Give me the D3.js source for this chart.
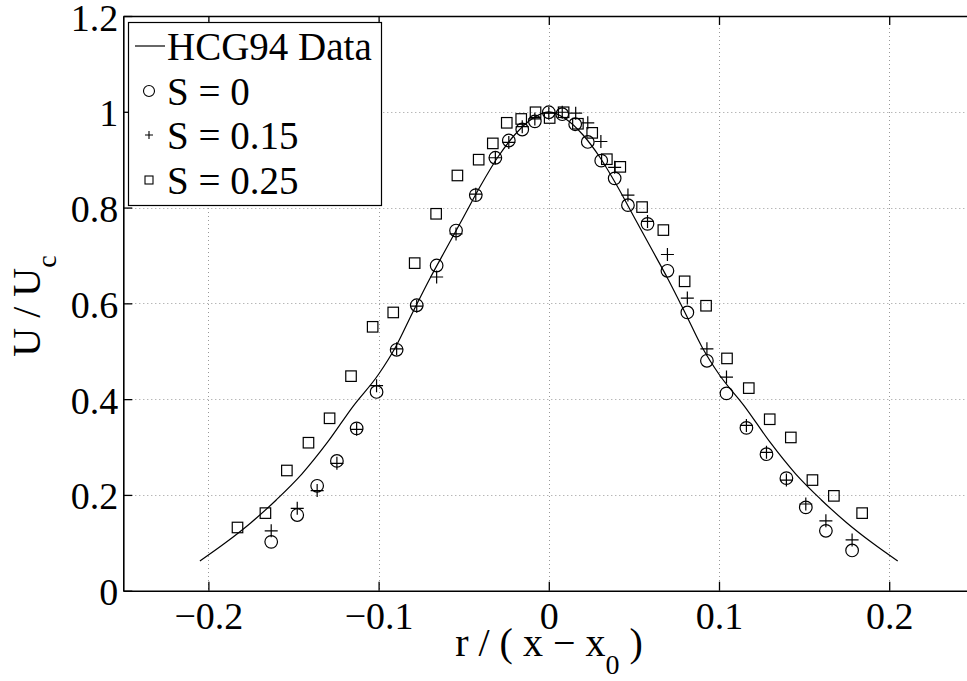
<!DOCTYPE html>
<html><head><meta charset="utf-8">
<script src="https://cdn.jsdelivr.net/npm/d3@7"></script>
<style>
html,body{margin:0;padding:0;background:#fff;overflow:hidden;}
svg text{font-family:"Liberation Serif","Times New Roman",serif;fill:#000;}
</style></head>
<body>
<svg id="chart" width="967" height="681"></svg>
<script>
// ---- data ----
const xTicks = [-0.2, -0.1, 0, 0.1, 0.2];
const xTickLabels = ["\u22120.2", "\u22120.1", "0", "0.1", "0.2"];
const yTicks = [0, 0.2, 0.4, 0.6, 0.8, 1, 1.2];
const yTickLabels = ["0", "0.2", "0.4", "0.6", "0.8", "1", "1.2"];

const curveX = [-0.205,-0.19,-0.175,-0.16,-0.145,-0.13,-0.115,-0.10,-0.09,-0.08,-0.07,-0.06,-0.05,-0.04,-0.03,-0.02,-0.01,0,
                0.01,0.02,0.03,0.04,0.05,0.06,0.07,0.08,0.09,0.10,0.115,0.13,0.145,0.16,0.175,0.19,0.205];
const curveY = [0.062,0.100,0.142,0.190,0.244,0.310,0.385,0.452,0.509,0.581,0.651,0.716,0.781,0.846,0.905,0.952,0.985,1.000,
                0.985,0.952,0.905,0.846,0.781,0.716,0.651,0.581,0.509,0.452,0.385,0.310,0.244,0.190,0.142,0.100,0.062];

const s0X = [-0.1631,-0.1478,-0.1361,-0.1245,-0.1129,-0.1012,-0.0894,-0.0776,-0.0659,-0.0545,-0.0429,-0.0314,-0.0235,-0.0156,-0.0082,0,
             0.0079,0.0155,0.0229,0.0308,0.0387,0.0465,0.0580,0.0697,0.0814,0.0929,0.1044,0.1161,0.1279,0.1396,0.1510,0.1628,0.1782];
const s0Y = [0.102,0.158,0.219,0.271,0.339,0.415,0.503,0.596,0.679,0.752,0.826,0.904,0.940,0.963,0.980,0.999,
             0.995,0.974,0.937,0.898,0.861,0.805,0.766,0.668,0.581,0.480,0.412,0.340,0.285,0.235,0.174,0.125,0.084];

const s15X = [-0.1631,-0.1478,-0.1361,-0.1245,-0.1129,-0.1012,-0.0894,-0.0776,-0.0659,-0.0545,-0.0429,-0.0314,-0.0235,-0.0156,-0.0082,0,
              0.0079,0.0158,0.0229,0.0306,0.0387,0.0465,0.0580,0.0697,0.0814,0.0929,0.1044,0.1161,0.1279,0.1396,0.1510,0.1628,0.1782];
const s15Y = [0.125,0.172,0.209,0.266,0.337,0.428,0.505,0.594,0.655,0.745,0.828,0.904,0.936,0.969,0.985,0.997,
              0.999,0.997,0.977,0.938,0.884,0.826,0.771,0.702,0.611,0.505,0.446,0.345,0.289,0.231,0.181,0.146,0.106];

const s25X = [-0.1829,-0.1665,-0.1539,-0.1412,-0.1288,-0.1162,-0.1035,-0.0914,-0.0788,-0.0662,-0.0537,-0.0412,-0.0329,-0.0247,-0.0162,-0.0078,
              0.0005,0.0087,0.0171,0.0255,0.0341,0.0420,0.0548,0.0673,0.0798,0.0924,0.1047,0.1175,0.1298,0.1422,0.1549,0.1675,0.1841];
const s25Y = [0.132,0.162,0.251,0.309,0.360,0.448,0.551,0.581,0.684,0.787,0.867,0.900,0.934,0.977,0.985,0.999,
              0.987,0.999,0.975,0.956,0.901,0.885,0.801,0.753,0.646,0.595,0.485,0.423,0.358,0.320,0.231,0.198,0.162];

const legendLabels = ["HCG94 Data", "S = 0", "S = 0.15", "S = 0.25"];

// ---- layout ----
const svg = d3.select("#chart");
const L = 123.3, R = 974.3, T = 16, B = 590.7;
const x = d3.scaleLinear().domain([-0.25, 0.25]).range([L, R]);
const y = d3.scaleLinear().domain([0, 1.2]).range([B, T]);

// grid
const grid = svg.append("g").attr("stroke", "#999").attr("stroke-width", 1).attr("stroke-dasharray", "1,3");
grid.selectAll(".gx").data(xTicks).enter().append("line")
  .attr("x1", d => Math.round(x(d)) + 0.5).attr("x2", d => Math.round(x(d)) + 0.5)
  .attr("y1", T).attr("y2", B);
grid.selectAll(".gy").data(yTicks.filter(d => d > 0 && d < 1.2)).enter().append("line")
  .attr("y1", d => Math.round(y(d)) + 0.5).attr("y2", d => Math.round(y(d)) + 0.5)
  .attr("x1", L).attr("x2", R);

// axes
const axB = svg.append("g").attr("transform", `translate(0,${B})`)
  .call(d3.axisBottom(x).tickValues(xTicks).tickSizeInner(-9).tickSizeOuter(0).tickFormat((d, i) => xTickLabels[i]));
const axT = svg.append("g").attr("transform", `translate(0,${T})`)
  .call(d3.axisTop(x).tickValues(xTicks).tickSizeInner(-9).tickSizeOuter(0).tickFormat(""));
const axL = svg.append("g").attr("transform", `translate(${L},0)`)
  .call(d3.axisLeft(y).tickValues(yTicks).tickSizeInner(-9).tickSizeOuter(0).tickFormat((d, i) => yTickLabels[i]));
[axB, axT, axL].forEach(a => {
  a.select(".domain").attr("stroke", "#000").attr("stroke-width", 1.6);
  a.selectAll(".tick line").attr("stroke", "#000").attr("stroke-width", 1.3);
  a.selectAll("text").style("font-family", '"Liberation Serif","Times New Roman",serif')
    .style("font-size", "38px").attr("fill", "#000");
});
axB.selectAll(".tick text").attr("dy", null).attr("y", 38);
axL.selectAll(".tick text").attr("dy", null).attr("x", -5).attr("y", 14);

// curve
const line = d3.line().x(d => x(d[0])).y(d => y(d[1])).curve(d3.curveMonotoneX);
svg.append("path").datum(curveX.map((v, i) => [v, curveY[i]]))
  .attr("d", line).attr("fill", "none").attr("stroke", "#000").attr("stroke-width", 1.2);

// markers
svg.append("g").selectAll("circle").data(s0X.map((v, i) => [v, s0Y[i]])).enter().append("circle")
  .attr("cx", d => x(d[0])).attr("cy", d => y(d[1])).attr("r", 6.3)
  .attr("fill", "none").attr("stroke", "#000").attr("stroke-width", 1.2);
const pl = 6.5;
svg.append("g").selectAll("path").data(s15X.map((v, i) => [v, s15Y[i]])).enter().append("path")
  .attr("d", d => { const cx = x(d[0]), cy = y(d[1]); return `M${cx - pl},${cy}H${cx + pl}M${cx},${cy - pl}V${cy + pl}`; })
  .attr("fill", "none").attr("stroke", "#000").attr("stroke-width", 1.2);
const sq = 10.5;
svg.append("g").selectAll("rect").data(s25X.map((v, i) => [v, s25Y[i]])).enter().append("rect")
  .attr("x", d => x(d[0]) - sq / 2).attr("y", d => y(d[1]) - sq / 2).attr("width", sq).attr("height", sq)
  .attr("fill", "none").attr("stroke", "#000").attr("stroke-width", 1.2);

// legend
const lg = svg.append("g");
lg.append("rect").attr("x", 128.5).attr("y", 22.5).attr("width", 253).attr("height", 183)
  .attr("fill", "#fff").attr("stroke", "#000").attr("stroke-width", 1.2);
const rowY = [46, 91, 135, 180];
const txtX = 167;
lg.append("line").attr("x1", 135).attr("x2", 165).attr("y1", rowY[0]).attr("y2", rowY[0]).attr("stroke", "#000").attr("stroke-width", 1.2);
lg.append("circle").attr("cx", 149).attr("cy", rowY[1]).attr("r", 5.5).attr("fill", "none").attr("stroke", "#000").attr("stroke-width", 1.1);
lg.append("path").attr("d", `M${149 - 4},${rowY[2]}H${149 + 4}M149,${rowY[2] - 4}V${rowY[2] + 4}`).attr("stroke", "#000").attr("stroke-width", 1.1);
lg.append("rect").attr("x", 149 - 4).attr("y", rowY[3] - 4).attr("width", 8).attr("height", 8).attr("fill", "none").attr("stroke", "#000").attr("stroke-width", 1.1);
lg.selectAll("text").data(legendLabels).enter().append("text")
  .attr("x", txtX).attr("y", (d, i) => rowY[i] + 14).style("font-size", "39px").text(d => d);

// axis labels
const xl = svg.append("text").attr("x", 549).attr("y", 656).attr("text-anchor", "middle").style("font-size", "40px");
xl.append("tspan").text("r / ( x \u2212 x");
xl.append("tspan").attr("dy", 18).style("font-size", "28px").text("0");
xl.append("tspan").attr("dy", -18).text(" )");

const yl = svg.append("text").attr("transform", "translate(40,306) rotate(-90)").attr("text-anchor", "middle").style("font-size", "40px");
yl.append("tspan").text("U / U");
yl.append("tspan").attr("dy", 16).style("font-size", "28px").text("c");
</script>
</body></html>
